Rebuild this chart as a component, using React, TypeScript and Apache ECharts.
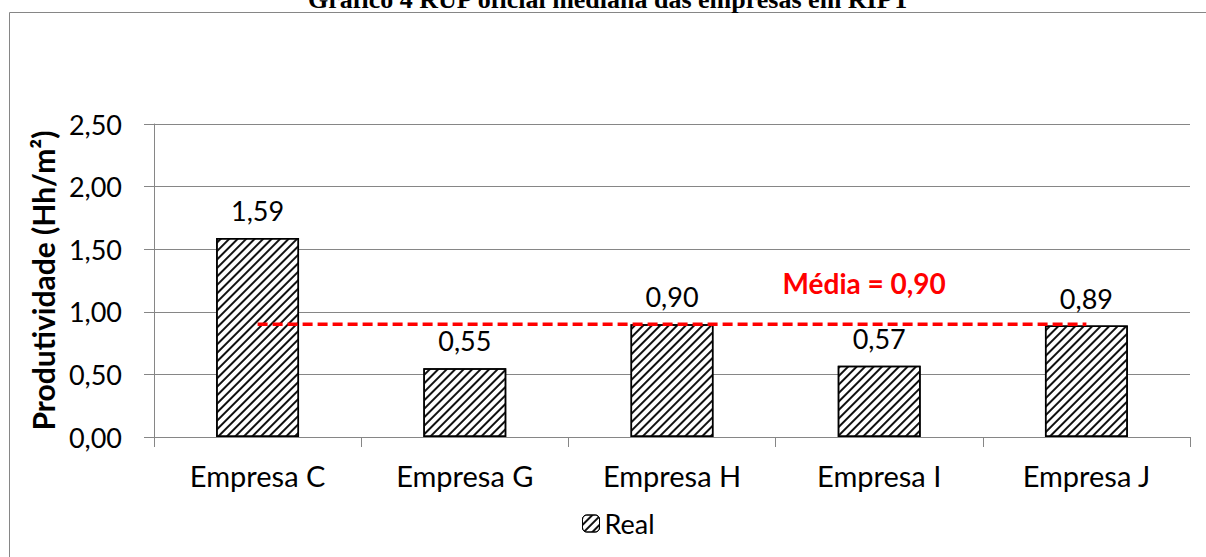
import React, { useEffect, useRef } from "react";
import * as echarts from "echarts";

const CATEGORIES = ["Empresa C", "Empresa G", "Empresa H", "Empresa I", "Empresa J"];
const REAL = [1.59, 0.55, 0.9, 0.57, 0.89];
const MEDIA = [0.9, 0.9, 0.9, 0.9, 0.9];
const MEDIA_LABEL = "Média = 0,90";
const MEDIA_LABEL_AT = "Empresa I";
const Y_TICKS = { min: 0, max: 2.5, interval: 0.5 };
const TITLE = "Gráfico 4 RUP oficial mediana das empresas em RIPT";
const Y_NAME = "Produtividade (Hh/m²)";
const SERIES_NAME = "Real";

const fmt = (v: number) => v.toFixed(2).replace(".", ",");
const FONT = "Lato";
const FS = 27;

export default function App() {
  const ref = useRef<HTMLDivElement>(null);
  useEffect(() => {
    if (!ref.current) return;
    const chart = echarts.init(ref.current, null, { renderer: "svg" });
    const decal = {
      symbol: "rect",
      symbolSize: 1,
      dashArrayX: [1, 0],
      dashArrayY: [1.5, 3.2],
      rotation: -Math.PI / 4,
      color: "#111",
      backgroundColor: "#fff",
    };
    chart.setOption({
      animation: false,
      backgroundColor: "#fff",
      graphic: [
        {
          type: "rect",
          shape: { x: 9.5, y: 12.5, width: 1400, height: 800 },
          style: { fill: "none", stroke: "#868686", lineWidth: 1 },
          silent: true,
          z: -1,
        },
        {
          type: "text",
          x: 609,
          y: 12,
          style: {
            text: TITLE,
            font: "bold 26px 'Liberation Serif'",
            fill: "#000",
            align: "center",
            verticalAlign: "bottom",
          },
        },
      ],
      grid: { left: 154, right: 16, top: 124, bottom: 120, containLabel: false },
      legend: {
        data: [SERIES_NAME],
        left: 577,
        top: 505,
        itemWidth: 17,
        itemHeight: 17,
        itemGap: 8,
        textStyle: { fontFamily: FONT, fontSize: FS, color: "#000" },
        itemStyle: { borderColor: "#000", borderWidth: 1 },
      },
      xAxis: {
        type: "category",
        data: CATEGORIES,
        axisLine: { lineStyle: { color: "#868686", width: 1 } },
        axisTick: { show: true, length: 10, lineStyle: { color: "#868686" } },
        axisLabel: { fontFamily: FONT, fontSize: 29, color: "#000", margin: 24 },
      },
      yAxis: {
        type: "value",
        min: Y_TICKS.min,
        max: Y_TICKS.max,
        interval: Y_TICKS.interval,
        name: Y_NAME,
        nameLocation: "middle",
        nameGap: 90,
        nameTextStyle: { fontFamily: FONT, fontSize: 30, fontWeight: "bold", color: "#000" },
        axisLine: { show: true, lineStyle: { color: "#868686", width: 1 } },
        axisTick: { show: true, length: 10, lineStyle: { color: "#868686" } },
        splitLine: { lineStyle: { color: "#868686", width: 1 } },
        axisLabel: { fontFamily: FONT, fontSize: FS, color: "#000", margin: 32, formatter: (v: number) => fmt(v) },
      },
      series: [
        {
          name: SERIES_NAME,
          type: "bar",
          data: REAL,
          barWidth: "40%",
          itemStyle: { color: "#fff", borderColor: "#000", borderWidth: 1.5, decal },
          label: {
            show: true,
            position: "top",
            distance: 14,
            fontFamily: FONT,
            fontSize: FS,
            color: "#000",
            formatter: (p: any) => fmt(p.value),
          },
        },
        {
          name: "Média",
          type: "line",
          data: MEDIA,
          symbol: "none",
          lineStyle: { color: "#ff0000", width: 3.5, type: [10, 5] },
          z: 5,
          markPoint: {
            silent: true,
            symbol: "circle",
            symbolSize: 1,
            itemStyle: { color: "rgba(0,0,0,0)" },
            data: [
              {
                coord: [MEDIA_LABEL_AT, MEDIA[CATEGORIES.indexOf(MEDIA_LABEL_AT)]],
                label: {
                  show: true,
                  position: "top",
                  distance: 27,
                  offset: [-15, 0],
                  formatter: MEDIA_LABEL,
                  fontFamily: FONT,
                  fontSize: 28,
                  fontWeight: "bold",
                  color: "#ff0000",
                },
              },
            ],
          },
        },
      ],
    });
    return () => chart.dispose();
  }, []);
  return <div ref={ref} style={{ position: "fixed", left: 0, top: 0, width: 1206, height: 557 }} />;
}
